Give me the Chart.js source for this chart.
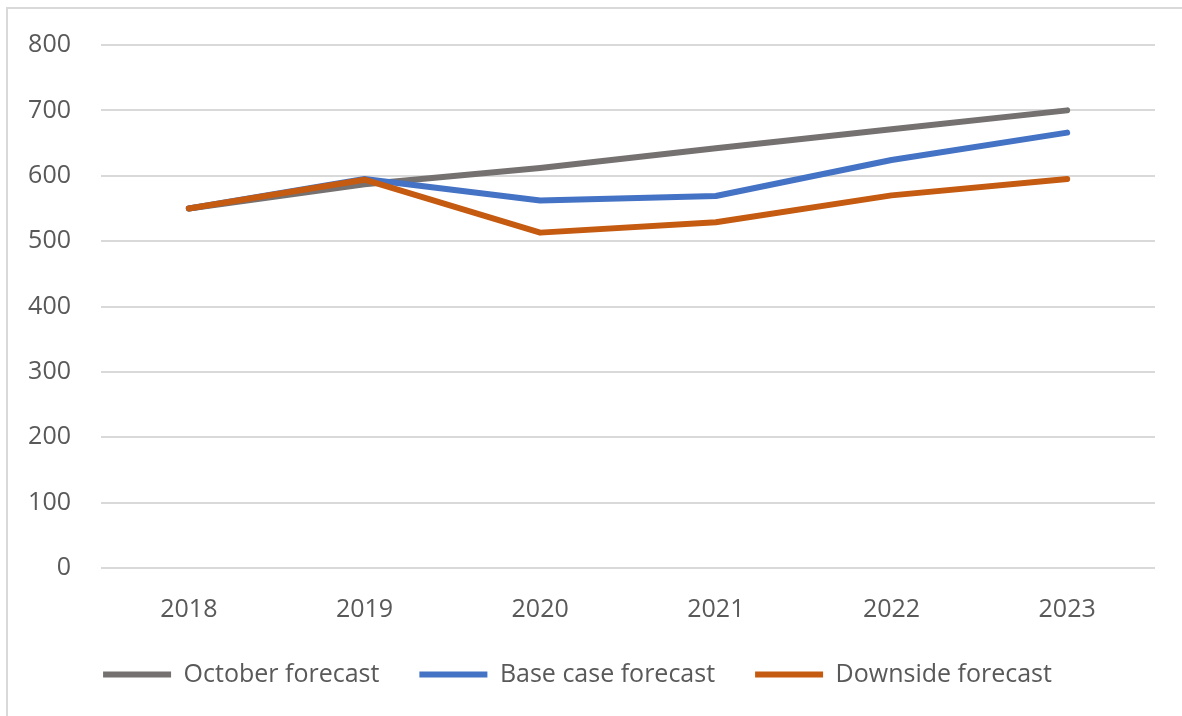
<!DOCTYPE html>
<html>
<head>
<meta charset="utf-8">
<script src="https://cdn.jsdelivr.net/npm/chart.js@4"></script>
<style>
  html, body { margin:0; padding:0; background:#fff; overflow:hidden; }
  .frame { position:absolute; left:6px; top:7px; width:1200px; height:730px; border:2px solid #d9d9d9; }
  .wrap { position:absolute; left:0; top:0; width:1182px; height:716px; }
</style>
</head>
<body>
<div class="frame"></div>
<div class="wrap"><canvas id="forecast"></canvas></div>
<script>
const YEARS = ["2018", "2019", "2020", "2021", "2022", "2023"];
const OCTOBER = [550, 587, 612, 642, 671, 700];
const BASE_CASE = [550, 595, 562, 569, 624, 666];
const DOWNSIDE = [550, 594, 513, 529, 570, 595];

const COLORS = {
  gray: "#767171",
  blue: "#4472C4",
  orange: "#C55A11",
  text: "#595959",
  grid: "#d9d9d9"
};

const FONT = "'Open Sans', 'Liberation Sans', sans-serif";

function series(label, data, color, order){
  return {
    label, data, order,
    borderColor: color, backgroundColor: color,
    borderWidth: 6, borderCapStyle: "round", borderJoinStyle: "round",
    pointRadius: 0, pointHoverRadius: 0, tension: 0, fill: false
  };
}

new Chart(document.getElementById("forecast"), {
  type: "line",
  data: {
    labels: YEARS,
    datasets: [
      series("October forecast", OCTOBER, COLORS.gray, 3),
      series("Base case forecast", BASE_CASE, COLORS.blue, 2),
      series("Downside forecast", DOWNSIDE, COLORS.orange, 1)
    ]
  },
  options: {
    responsive: true,
    maintainAspectRatio: false,
    animation: false,
    layout: { padding: { top: 45, right: 27, bottom: 19, left: 0 } },
    plugins: {
      tooltip: { enabled: false },
      legend: {
        position: "bottom",
        labels: {
          color: COLORS.text,
          font: { family: FONT, size: 25 },
          usePointStyle: true,
          pointStyle: "line",
          pointStyleWidth: 68,
          boxHeight: 6,
          padding: 40,
          sort: (a, b) => a.datasetIndex - b.datasetIndex
        }
      }
    },
    scales: {
      x: {
        offset: true,
        grid: { display: false },
        border: { display: false },
        ticks: { color: COLORS.text, font: { family: FONT, size: 25 }, padding: 19 },
        afterFit: (s) => { s.height = 54; }
      },
      y: {
        min: 0, max: 800,
        grid: { color: COLORS.grid, lineWidth: 2, drawTicks: false },
        border: { display: false },
        ticks: { stepSize: 100, color: COLORS.text, font: { family: FONT, size: 25 }, padding: 30 },
        afterFit: (s) => { s.width = 101; }
      }
    }
  }
});
</script>
</body>
</html>
